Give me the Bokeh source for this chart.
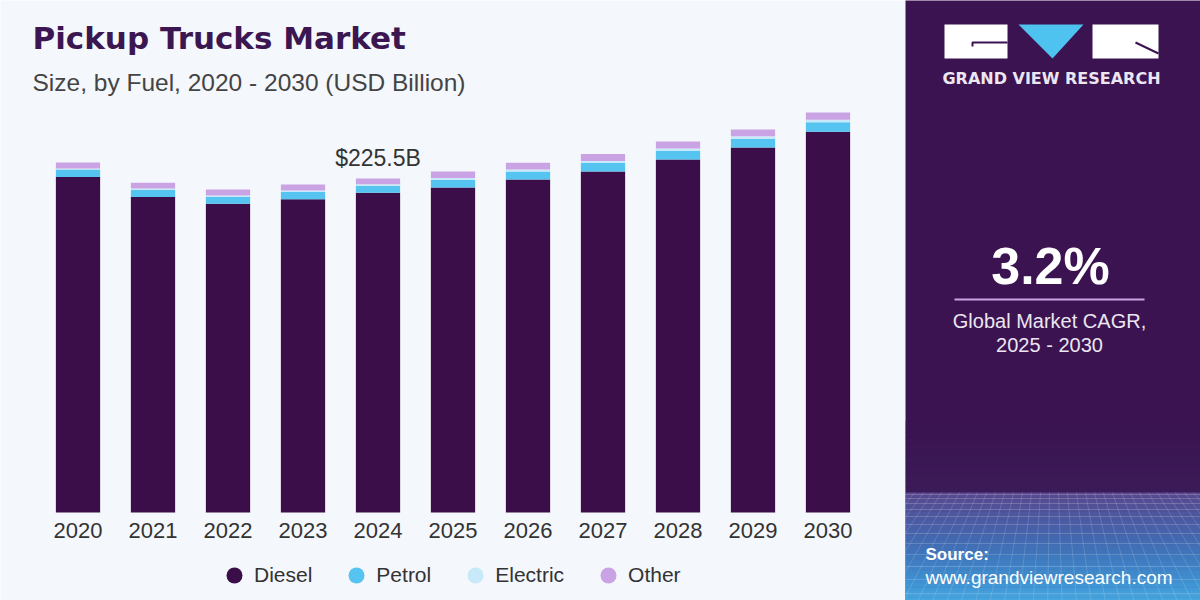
from bokeh.plotting import figure
from bokeh.models import Legend, LegendItem, Range1d, FactorRange, ColumnDataSource, Label
from bokeh.layouts import row
from bokeh.embed import file_html
from bokeh.resources import INLINE
from bokeh.core.properties import value

# ---------------- data ----------------
years = ["2020", "2021", "2022", "2023", "2024", "2025", "2026", "2027", "2028", "2029", "2030"]
diesel = [226.5, 213.0, 208.5, 211.5, 215.8, 219.5, 224.8, 230.2, 238.3, 246.4, 257.0]
petrol = [5.0, 4.8, 4.6, 4.9, 4.8, 5.2, 5.4, 5.7, 5.9, 6.0, 6.4]
electric = [0.8, 0.9, 0.9, 1.0, 1.1, 1.2, 1.3, 1.4, 1.5, 1.6, 1.8]
other = [4.0, 4.0, 4.0, 4.0, 3.8, 4.4, 4.6, 4.7, 4.8, 4.6, 4.8]
fuels = ["Diesel", "Petrol", "Electric", "Other"]
fuel_colors = ["#3b0e4a", "#55c4f0", "#c8e9f9", "#c9a3e3"]
highlight_year = "2024"
highlight_label = "$225.5B"
title_text = "Pickup Trucks Market"
subtitle_text = "Size, by Fuel, 2020 - 2030 (USD Billion)"
cagr_value = "3.2%"
cagr_lines = ["Global Market CAGR,", "2025 - 2030"]

BG = "#f4f7fb"
PANEL = "#3a1350"
H = 600
PX = 225.5 / 334.0          # billions per pixel
BASE = 512                  # pixel row of the value axis zero

source = ColumnDataSource(dict(year=years, Diesel=diesel, Petrol=petrol,
                               Electric=electric, Other=other))

xr = FactorRange(*years, range_padding=40.0 / 75.0, range_padding_units="absolute")
yr = Range1d(-(H - BASE) * PX, BASE * PX)
p = figure(x_range=xr, y_range=yr, width=905, height=H,
           output_backend="svg", toolbar_location=None, min_border=0)
p.background_fill_color = BG
p.border_fill_color = BG
p.outline_line_color = None
p.grid.visible = False
p.axis.visible = False

p.vbar_stack(fuels, x="year", width=0.59, color=fuel_colors, line_color=None,
             source=source)

# year labels under the bars
p.text(x=years, y=[0] * len(years), text=years, y_offset=18,
       text_align="center", text_baseline="alphabetic",
       text_font=value("Liberation Sans"), text_font_size=value("22px"),
       text_color="#333333")

idx = years.index(highlight_year)
total_h = diesel[idx] + petrol[idx] + electric[idx] + other[idx]
p.text(x=[highlight_year], y=[total_h], text=[highlight_label], y_offset=-21,
       text_align="center", text_baseline="alphabetic",
       text_font=value("Liberation Sans"), text_font_size=value("23px"),
       text_color="#333333")

# legend with circle glyphs (zero-size markers bound to the data)
items = []
for f, c in zip(fuels, fuel_colors):
    r = p.scatter(x="year", y=f, source=source, marker="circle", size=0,
                  fill_color=c, line_color=None)
    items.append(LegendItem(label=f, renderers=[r]))
legend = Legend(items=items, orientation="horizontal", location=(214, 5),
                label_text_font="Liberation Sans", label_text_font_size="21px",
                label_text_color="#333333", background_fill_alpha=0,
                border_line_color=None, glyph_width=40, glyph_height=40,
                label_standoff=-1, spacing=24, padding=0, margin=0)
p.add_layout(legend, "center")

p.add_layout(Label(x=32, y=H - 37, x_units="screen", y_units="screen", text=title_text,
                   text_font="DejaVu Sans", text_font_size="31px", text_font_style="bold",
                   text_color="#3b1650", text_baseline="alphabetic"))
p.add_layout(Label(x=32, y=H - 82, x_units="screen", y_units="screen", text=subtitle_text,
                   text_font="Liberation Sans", text_font_size="24.5px",
                   text_color="#444444", text_baseline="alphabetic"))

# ---------------- right panel ----------------
q = figure(width=295, height=H, x_range=Range1d(0, 295), y_range=Range1d(H, 0),
           output_backend="svg", toolbar_location=None, min_border=0)
q.axis.visible = False
q.grid.visible = False
q.outline_line_color = None
q.background_fill_color = PANEL
q.border_fill_color = PANEL


def mix(c1, c2, t):
    a = [int(c1[i:i + 2], 16) for i in (1, 3, 5)]
    b = [int(c2[i:i + 2], 16) for i in (1, 3, 5)]
    return "#%02x%02x%02x" % tuple(int(round(a[k] + (b[k] - a[k]) * t)) for k in range(3))


n1 = 12
for i in range(n1):
    y0 = 420 + i * 6
    q.quad(left=0, right=295, top=y0, bottom=y0 + 6.5, color=mix(PANEL, "#3b1c58", i / n1),
           line_color=None)
stops = [(492, "#574a90"), (520, "#4a5ca4"), (550, "#3f74ba"), (580, "#3f92d2"), (600, "#47a8e0")]
for k in range(len(stops) - 1):
    ya, ca = stops[k]
    yb, cb = stops[k + 1]
    steps = 6
    for s in range(steps):
        t0 = ya + (yb - ya) * s / steps
        t1 = ya + (yb - ya) * (s + 1) / steps
        q.quad(left=0, right=295, top=t0, bottom=t1 + 0.5, color=mix(ca, cb, s / steps),
               line_color=None)

hy = [494, 498, 503, 509, 516, 524, 533, 543, 554, 566, 579, 593]
q.multi_line(xs=[[0, 295] for _ in hy], ys=[[y, y] for y in hy], line_color="#ffffff",
             line_alpha=0.18, line_width=1)
xs_v, ys_v = [], []
for i in range(-4, 38):
    x0 = i * 9
    xs_v.append([x0, 147 + (x0 - 147) * 1.6])
    ys_v.append([492, 600])
q.multi_line(xs=xs_v, ys=ys_v, line_color="#ffffff", line_alpha=0.15, line_width=1)

# logo
q.quad(left=39, right=102, top=24, bottom=58, color="#ffffff", line_color=None)
q.line(x=[67, 67, 102], y=[46, 42, 42], line_color="#3a1350", line_width=2)
q.patch(x=[113, 178, 147], y=[24, 24, 58], color="#4fc3f0", line_color=None)
q.quad(left=187, right=253, top=24, bottom=58, color="#ffffff", line_color=None)
q.line(x=[230, 253], y=[42, 53], line_color="#3a1350", line_width=2)
q.text(x=[146], y=[78], text=["GRAND VIEW RESEARCH"], text_align="center",
       text_baseline="alphabetic", text_font=value("DejaVu Sans"),
       text_font_size=value("16px"), text_font_style="bold", text_color="#ece6f2")

# CAGR
q.text(x=[145], y=[265], text=[cagr_value], text_align="center",
       text_baseline="alphabetic", text_font=value("Liberation Sans"),
       text_font_size=value("52px"), text_font_style="bold", text_color="#ffffff")
q.line(x=[49, 239], y=[299, 299], line_color="#c9a3e3", line_width=2)
q.text(x=[144, 144], y=[320.5, 344.5], text=cagr_lines, text_align="center",
       text_baseline="alphabetic", text_font=value("Liberation Sans"),
       text_font_size=value("20px"), text_color="#ece6f2")

# source
q.text(x=[20], y=[554], text=["Source:"], text_align="left", text_baseline="alphabetic",
       text_font=value("Liberation Sans"), text_font_size=value("17px"),
       text_font_style="bold", text_color="#ffffff")
q.text(x=[20], y=[577], text=["www.grandviewresearch.com"], text_align="left",
       text_baseline="alphabetic", text_font=value("Liberation Sans"),
       text_font_size=value("19px"), text_color="#ffffff")

layout = row(p, q, spacing=0)
open("out.html", "w").write(file_html(layout, INLINE))
